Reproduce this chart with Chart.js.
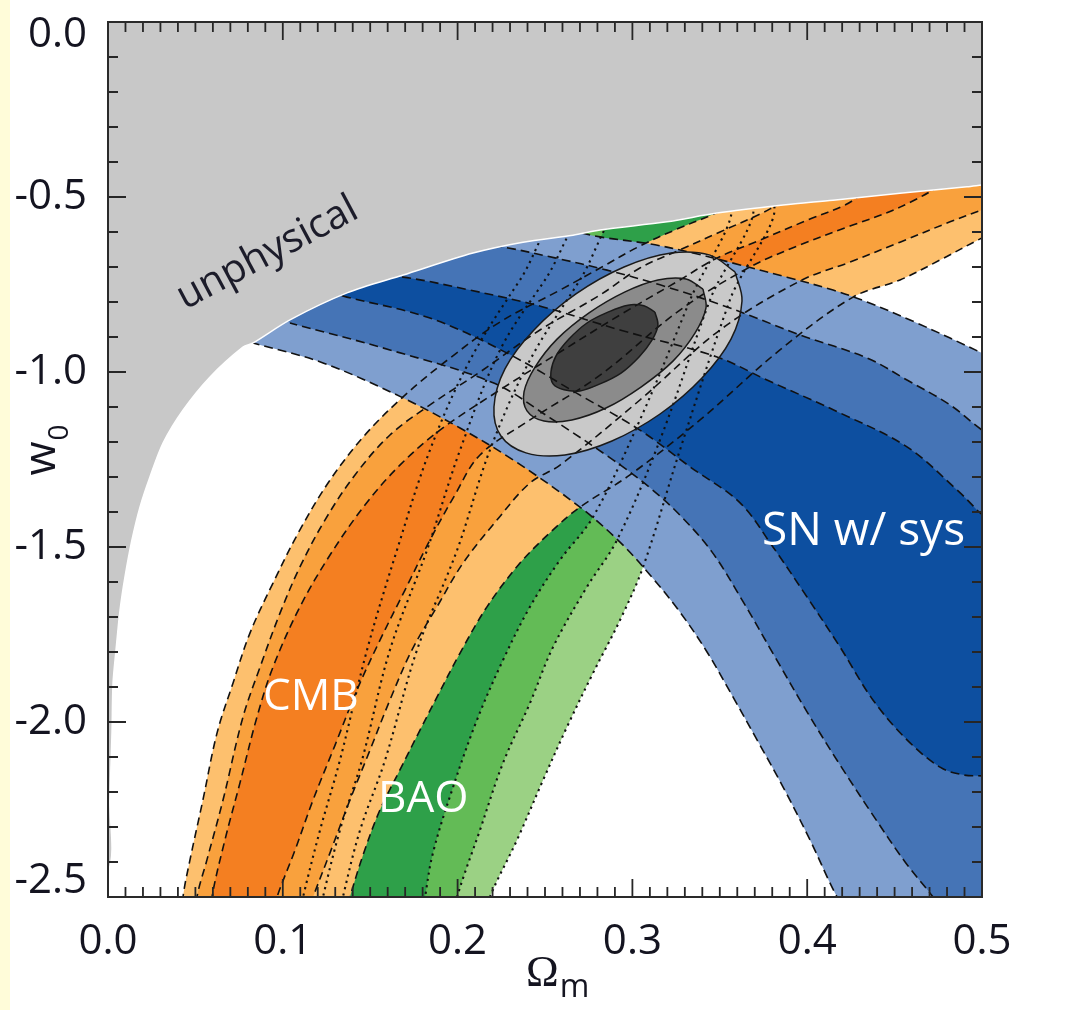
<!DOCTYPE html>
<html><head><meta charset="utf-8">
<script src="https://cdn.jsdelivr.net/npm/chart.js@4.4.1/dist/chart.umd.min.js"></script>
<style>
html,body{margin:0;padding:0;background:#fff;}
canvas{display:block;}
</style></head><body>
<canvas id="c" width="1069" height="1010"></canvas>
<script>
// ---------- axis ticks ----------
const xTickValues = [0, 0.1, 0.2, 0.3, 0.4, 0.5];
const xTickLabels = ['0.0', '0.1', '0.2', '0.3', '0.4', '0.5'];
const yTickValues = [-2.5, -2.0, -1.5, -1.0, -0.5, 0];
const yTickLabels = ['-2.5', '-2.0', '-1.5', '-1.0', '-0.5', '0.0'];

// ---------- unphysical region boundary (Omega_m, w0) ----------
const unphysical = [[-0.02,0.05],[0.52,0.05],[0.52,-0.455],[0.5,-0.466],[0.4914,-0.471],[0.4531,-0.489],[0.4148,-0.509],[0.3862,-0.523],[0.3484,-0.546],[0.3198,-0.571],[0.2815,-0.594],[0.266,-0.609],[0.2374,-0.629],[0.2088,-0.66],[0.1688,-0.723],[0.1367,-0.774],[0.1041,-0.851],[0.083,-0.917],[0.0772,-0.929],[0.0584,-1.014],[0.0429,-1.109],[0.0315,-1.203],[0.024,-1.3],[0.0183,-1.386],[0.0137,-1.48],[0.0097,-1.586],[0.0069,-1.68],[0.0046,-1.794],[0.0029,-1.889],[0.0023,-2.031],[0.0011,-2.223],[0.0003,-2.423],[-0.02,-2.45]];

// ---------- CMB contours (99.7 / 95 / 68 %) ----------
const cmbL3 = [[0.0429,-2.551],[0.0429,-2.5],[0.0469,-2.394],[0.0543,-2.223],[0.0624,-2.031],[0.0715,-1.889],[0.0812,-1.746],[0.0944,-1.603],[0.1098,-1.451],[0.127,-1.309],[0.147,-1.18],[0.1699,-1.066],[0.1957,-0.96],[0.2243,-0.857],[0.2586,-0.766],[0.2815,-0.703],[0.3043,-0.64],[0.3244,-0.594],[0.3455,-0.551],[0.3644,-0.509]];
const cmbT3 = [[0.4245,-0.451],[0.516,-0.423]];
const cmbR3 = [[0.516,-0.58],[0.5,-0.617],[0.476,-0.68],[0.4531,-0.737],[0.4262,-0.786],[0.3844,-0.937],[0.3387,-1.137],[0.2986,-1.294],[0.27,-1.386],[0.2546,-1.451],[0.2357,-1.546],[0.2168,-1.671],[0.2014,-1.803],[0.1882,-1.929],[0.1785,-2.023],[0.167,-2.137],[0.1556,-2.251],[0.1459,-2.38],[0.1384,-2.5],[0.1356,-2.551]];
const cmbL2 = [[0.0509,-2.551],[0.0509,-2.5],[0.0566,-2.394],[0.0658,-2.223],[0.0772,-1.986],[0.087,-1.843],[0.0984,-1.689],[0.1098,-1.557],[0.1241,-1.423],[0.1413,-1.294],[0.1613,-1.18],[0.1842,-1.094],[0.2128,-1.0],[0.2471,-0.88],[0.2815,-0.78],[0.3043,-0.703],[0.3272,-0.651],[0.3501,-0.6],[0.373,-0.549],[0.3902,-0.509]];
const cmbT2 = [[0.4531,-0.466],[0.516,-0.437]];
const cmbR2 = [[0.516,-0.509],[0.5,-0.537],[0.4817,-0.571],[0.4531,-0.629],[0.4245,-0.686],[0.3959,-0.74],[0.3501,-0.88],[0.3043,-1.08],[0.2586,-1.266],[0.2414,-1.317],[0.2225,-1.423],[0.2031,-1.546],[0.1882,-1.671],[0.1739,-1.794],[0.1613,-1.937],[0.1499,-2.08],[0.1384,-2.223],[0.1276,-2.366],[0.1173,-2.5],[0.1138,-2.551]];
const cmbL1 = [[0.0595,-2.551],[0.0595,-2.5],[0.0669,-2.337],[0.0755,-2.174],[0.0852,-1.986],[0.0944,-1.843],[0.1098,-1.671],[0.127,-1.523],[0.147,-1.38],[0.167,-1.266],[0.1899,-1.166],[0.2243,-1.051],[0.2586,-0.943],[0.2929,-0.837],[0.3272,-0.737],[0.3473,-0.677],[0.373,-0.623],[0.4016,-0.563],[0.4216,-0.523],[0.4359,-0.48]];
const cmbT1 = [[0.456,-0.451]];
const cmbR1 = [[0.476,-0.46],[0.4531,-0.529],[0.4245,-0.583],[0.3959,-0.637],[0.3673,-0.7],[0.3272,-0.823],[0.2815,-1.009],[0.2414,-1.137],[0.2128,-1.237],[0.1985,-1.351],[0.1842,-1.48],[0.1699,-1.623],[0.1556,-1.766],[0.1424,-1.909],[0.1299,-2.066],[0.1173,-2.223],[0.107,-2.366],[0.0967,-2.5],[0.0944,-2.551]];

// ---------- BAO contours ----------
const baoL3 = [[0.1098,-2.551],[0.1116,-2.5],[0.1213,-2.309],[0.1327,-2.109],[0.1482,-1.794],[0.1653,-1.509],[0.1842,-1.223],[0.2071,-0.966],[0.2357,-0.737],[0.2672,-0.509]];
const baoR3 = [[0.3787,-0.509],[0.3558,-0.794],[0.3272,-1.223],[0.3061,-1.557],[0.2929,-1.709],[0.2775,-1.86],[0.2626,-2.014],[0.2489,-2.166],[0.234,-2.337],[0.2185,-2.5],[0.2168,-2.551]];
const baoL2 = [[0.1213,-2.551],[0.123,-2.5],[0.1327,-2.309],[0.1453,-2.109],[0.1613,-1.794],[0.1825,-1.509],[0.2014,-1.223],[0.2243,-0.937],[0.25,-0.737],[0.2815,-0.509]];
const baoR2 = [[0.3673,-0.509],[0.3444,-0.794],[0.3158,-1.194],[0.2912,-1.48],[0.274,-1.614],[0.2546,-1.786],[0.2414,-1.946],[0.226,-2.117],[0.2128,-2.309],[0.1997,-2.5],[0.1985,-2.551]];
const baoL1 = [[0.1327,-2.551],[0.1344,-2.5],[0.1442,-2.309],[0.1585,-2.109],[0.1768,-1.794],[0.1997,-1.509],[0.2185,-1.223],[0.2414,-0.966],[0.27,-0.737],[0.2986,-0.509]];
const baoR1 = [[0.3558,-0.509],[0.333,-0.794],[0.3043,-1.137],[0.2775,-1.414],[0.2586,-1.537],[0.2414,-1.671],[0.226,-1.823],[0.2111,-1.994],[0.1974,-2.186],[0.1859,-2.374],[0.1814,-2.5],[0.1802,-2.551]];

// ---------- SN w/ sys contours ----------
const snU3 = [[0.0612,-0.866],[0.1098,-0.723],[0.167,-0.623],[0.2243,-0.551],[0.2586,-0.589],[0.2815,-0.614],[0.3101,-0.634],[0.3347,-0.66],[0.3616,-0.694],[0.3884,-0.729],[0.4148,-0.766],[0.4342,-0.8],[0.4628,-0.86],[0.5,-0.946],[0.516,-0.986]];
const snC3 = [[0.516,-2.551],[0.4245,-2.551]];
const snD3 = [[0.4171,-2.5],[0.4016,-2.337],[0.3862,-2.186],[0.3713,-2.051],[0.3576,-1.929],[0.3427,-1.8],[0.3272,-1.686],[0.3101,-1.58],[0.2929,-1.486],[0.27,-1.386],[0.2317,-1.251],[0.2014,-1.16],[0.1688,-1.074],[0.123,-0.974],[0.083,-0.917]];
const snU2 = [[0.0927,-0.823],[0.1384,-0.703],[0.1957,-0.623],[0.226,-0.643],[0.2557,-0.674],[0.2855,-0.709],[0.3158,-0.751],[0.3541,-0.814],[0.3959,-0.894],[0.4342,-0.96],[0.4571,-1.023],[0.4817,-1.094],[0.5,-1.166],[0.516,-1.217]];
const snC2 = [[0.516,-2.551],[0.4788,-2.551]];
const snD2 = [[0.472,-2.5],[0.456,-2.4],[0.4376,-2.266],[0.4188,-2.123],[0.3999,-1.971],[0.381,-1.809],[0.3627,-1.651],[0.3455,-1.514],[0.3272,-1.409],[0.3101,-1.331],[0.2889,-1.251],[0.2529,-1.131],[0.2203,-1.031],[0.1613,-0.937],[0.1041,-0.86]];
const snU1 = [[0.1442,-0.723],[0.1688,-0.729],[0.2071,-0.766],[0.2489,-0.814],[0.2929,-0.88],[0.3484,-0.957],[0.377,-1.023],[0.4188,-1.117],[0.4571,-1.214],[0.4857,-1.337],[0.4971,-1.394],[0.516,-1.494]];
const snC1 = [[0.516,-2.16]];
const snD1 = [[0.5,-2.154],[0.4891,-2.151],[0.476,-2.129],[0.4571,-2.051],[0.4376,-1.937],[0.4188,-1.786],[0.3999,-1.643],[0.3804,-1.5],[0.3616,-1.374],[0.333,-1.271],[0.3043,-1.166],[0.27,-1.066],[0.2283,-0.946],[0.1842,-0.846],[0.1367,-0.786],[0.1213,-0.766]];

// ---------- combined constraint ellipses ----------
const comb3 = [[0.3587,-0.714],[0.3627,-0.797],[0.3564,-0.906],[0.3398,-1.017],[0.3158,-1.12],[0.2883,-1.197],[0.2614,-1.237],[0.2391,-1.231],[0.2248,-1.183],[0.2208,-1.1],[0.2271,-0.991],[0.2437,-0.88],[0.2677,-0.777],[0.2952,-0.7],[0.3221,-0.66],[0.3444,-0.666]];
const comb2 = [[0.3404,-0.763],[0.3421,-0.817],[0.3358,-0.889],[0.3232,-0.969],[0.3049,-1.043],[0.2849,-1.103],[0.2654,-1.137],[0.2494,-1.14],[0.2397,-1.111],[0.238,-1.057],[0.2443,-0.986],[0.2569,-0.906],[0.2752,-0.831],[0.2958,-0.771],[0.3146,-0.737],[0.3307,-0.734]];
const comb1 = [[0.3129,-0.829],[0.3146,-0.866],[0.3112,-0.909],[0.3038,-0.957],[0.2935,-1.003],[0.2815,-1.034],[0.27,-1.054],[0.2609,-1.051],[0.2546,-1.034],[0.2534,-1.0],[0.2563,-0.954],[0.2637,-0.906],[0.274,-0.86],[0.286,-0.829],[0.2975,-0.809],[0.3066,-0.811]];

// ---------- in-plot labels ----------
const regionLabels = ['CMB', 'BAO', 'SN w/ sys', 'unphysical'];
const labelX = [0.0887, 0.1545, 0.3741, 0.0441];
const labelY = [-1.966, -2.257, -1.494, -0.823];

// ---------- styles ----------
const labelStyle = [
  {size: 44, color: '#ffffff', angle: 0},
  {size: 44, color: '#ffffff', angle: 0},
  {size: 46, color: '#ffffff', angle: 0},
  {size: 40, color: '#1c1c2a', angle: -28}
];
const cmbColors = ['#fdc06e', '#f9a13d', '#f47f21'];
const baoColors = ['#9bd184', '#63bb56', '#2ea049'];
const snColors  = ['#7f9fcf', '#4574b6', '#0d4fa0'];
const combColors = ['#c9c9c9', '#8b8b8b', '#3f3f3f'];

const toPts = a => a.map(p => ({x: p[0], y: p[1]}));
const closeLoop = a => a.concat([a[0]]);

const cmbPolys = [cmbL3.concat(cmbT3, cmbR3), cmbL2.concat(cmbT2, cmbR2), cmbL1.concat(cmbT1, cmbR1)];
const baoPolys = [baoL3.concat(baoR3), baoL2.concat(baoR2), baoL1.concat(baoR1)];
const snPolys  = [snU3.concat(snC3, snD3), snU2.concat(snC2, snD2), snU1.concat(snC1, snD1)];
const combPolys = [comb3, comb2, comb1].map(closeLoop);

const layers = [];
const addFill = (pts, color) => layers.push({data: toPts(pts), fill: 'shape', backgroundColor: color,
  borderColor: 'rgba(0,0,0,0)', borderWidth: 0, pointRadius: 0, pointHoverRadius: 0, tension: 0.35});
const addLine = (pts, dash, width, color) => layers.push({data: toPts(pts), fill: false, backgroundColor: 'rgba(0,0,0,0)',
  borderColor: color || '#111111', borderWidth: width, borderDash: dash, borderCapStyle: 'butt', pointRadius: 0, pointHoverRadius: 0, tension: 0.35});

baoPolys.forEach((p, i) => addFill(p, baoColors[i]));
cmbPolys.forEach((p, i) => addFill(p, cmbColors[i]));
snPolys.forEach((p, i) => addFill(p, snColors[i]));
combPolys.forEach((p, i) => addFill(p, combColors[i]));
cmbPolys.forEach(p => addLine(p, [8, 5], 1.6));
baoPolys.forEach(p => addLine(p, [2.2, 4.3], 2.1));
snPolys.forEach(p => addLine(p, [9, 5], 1.6));
combPolys.forEach(p => addLine(p, [], 1.5, '#1a1a1a'));
layers.push({data: toPts(unphysical), fill: 'shape', backgroundColor: '#c8c8c8', borderColor: '#ffffff',
  borderWidth: 1.5, pointRadius: 0, pointHoverRadius: 0, tension: 0.3});
// first layer drawn first (higher order = drawn earlier)
layers.forEach((d, i) => { d.order = layers.length - i; });

const decor = {
  id: 'decor',
  beforeDraw(chart) {
    const c = chart.ctx;
    c.save();
    c.fillStyle = '#ffffff'; c.fillRect(0, 0, chart.width, chart.height);
    c.fillStyle = '#fffcd9'; c.fillRect(0, 0, 10, chart.height);
    c.restore();
  },
  afterDatasetsDraw(chart) {
    const {ctx: c, chartArea: a, scales: {x, y}} = chart;
    c.save();
    // region labels
    regionLabels.forEach((t, i) => {
      const st = labelStyle[i];
      c.save();
      c.translate(x.getPixelForValue(labelX[i]), y.getPixelForValue(labelY[i]));
      c.rotate(st.angle * Math.PI / 180);
      c.font = st.size + 'px "Open Sans"';
      c.fillStyle = st.color; c.textAlign = 'left'; c.textBaseline = 'alphabetic';
      c.fillText(t, 0, 0);
      c.restore();
    });
    // inward ticks on all four sides
    c.strokeStyle = '#262626'; c.lineWidth = 1.8;
    c.beginPath();
    for (let i = 0; i <= 50; i++) {
      const px = x.getPixelForValue(i / 100);
      const len = (i % 10 === 0) ? 18 : 10;
      c.moveTo(px, a.bottom); c.lineTo(px, a.bottom - len);
      c.moveTo(px, a.top); c.lineTo(px, a.top + len);
    }
    for (let i = 0; i <= 25; i++) {
      const py = y.getPixelForValue(-i / 10);
      const len = (i % 5 === 0) ? 18 : 10;
      c.moveTo(a.left, py); c.lineTo(a.left + len, py);
      c.moveTo(a.right, py); c.lineTo(a.right - len, py);
    }
    c.stroke();
    c.lineWidth = 2; c.strokeStyle = '#2a2a2a';
    c.strokeRect(a.left, a.top, a.right - a.left, a.bottom - a.top);
    // axis titles
    c.fillStyle = '#141420';
    c.save();
    c.translate(a.left - 53, (a.top + a.bottom) / 2 + 16);
    c.rotate(-Math.PI / 2);
    c.font = '44px "Open Sans"'; c.textBaseline = 'alphabetic'; c.textAlign = 'left';
    c.fillText('w', 0, 0);
    const ww = c.measureText('w').width;
    c.font = '28px "Open Sans"';
    c.fillText('0', ww + 1, 13);
    c.restore();
    const cx = (a.left + a.right) / 2;
    c.font = '44px "Liberation Serif"'; c.textAlign = 'left'; c.textBaseline = 'alphabetic';
    c.fillText('\u03A9', cx - 19, a.bottom + 89);
    const ow = c.measureText('\u03A9').width;
    c.font = '32px "Open Sans"';
    c.fillText('m', cx - 19 + ow + 1, a.bottom + 100);
    c.restore();
  }
};

new Chart(document.getElementById('c'), {
  type: 'line',
  data: {datasets: layers},
  options: {
    responsive: false, animation: false, events: [],
    layout: {padding: {left: 0, top: 22, right: 87, bottom: 0}},
    elements: {line: {capBezierPoints: false}},
    plugins: {legend: {display: false}, tooltip: {enabled: false}},
    scales: {
      x: {
        type: 'linear', position: 'bottom', min: 0, max: 0.5,
        grid: {display: false, drawTicks: false}, border: {display: false},
        afterBuildTicks: s => { s.ticks = xTickValues.map(v => ({value: v})); },
        afterFit: s => { s.height = 113; s.paddingLeft = 0; s.paddingRight = 0; },
        ticks: {autoSkip: false, maxRotation: 0, padding: 20, color: '#141420',
          font: {family: 'Open Sans', size: 42},
          callback: (v, i) => xTickLabels[i]}
      },
      y: {
        type: 'linear', position: 'left', min: -2.5, max: 0,
        grid: {display: false, drawTicks: false}, border: {display: false},
        afterBuildTicks: s => { s.ticks = yTickValues.map(v => ({value: v})); },
        afterFit: s => { s.width = 108; s.paddingTop = 0; s.paddingBottom = 0; },
        ticks: {autoSkip: false, padding: 21, color: '#141420',
          font: ctx => ({family: 'Open Sans', size: 42,
            lineHeight: ctx.index === yTickValues.length - 1 ? 0.62 : (ctx.index === 0 ? 0.76 : 1.2)}),
          callback: (v, i) => i === yTickLabels.length - 1 ? ['', yTickLabels[i]] : (i === 0 ? [yTickLabels[i], ''] : yTickLabels[i])}
      }
    }
  },
  plugins: [decor]
});
</script></body></html>
